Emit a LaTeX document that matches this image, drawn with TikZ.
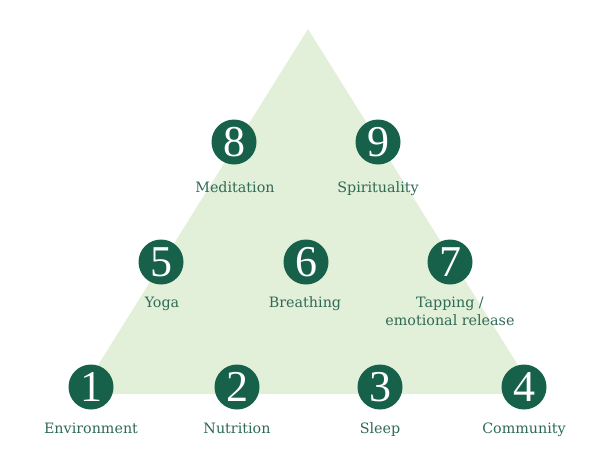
\documentclass[tikz,border=0pt]{standalone}
\usepackage{fontspec}
\setmainfont{DejaVu Serif}
\newfontfamily\digitfont{Liberation Serif}
\definecolor{tri}{HTML}{E2EFD9}
\definecolor{dkgreen}{HTML}{17604A}
\definecolor{lblgreen}{HTML}{2F6A55}
\begin{document}
\begin{tikzpicture}[x=1pt,y=-1pt,
  numcirc/.style={circle,fill=dkgreen,minimum size=45pt,inner sep=0pt,text=white,font=\digitfont\fontsize{44}{44}\selectfont},
  lbl/.style={text=lblgreen,font=\fontsize{14.3}{18}\selectfont,align=center,inner sep=0pt,anchor=base}]
\useasboundingbox (0,0) rectangle (613,467);
\fill[tri] (308,29) -- (536,394) -- (80,394) -- cycle;
\node[numcirc] (c1) at (91,387) {1};
\node[numcirc] (c2) at (237,387) {2};
\node[numcirc] (c3) at (380,387) {3};
\node[numcirc] (c4) at (524,387) {4};
\node[numcirc] (c5) at (161,262) {5};
\node[numcirc] (c6) at (306,262) {6};
\node[numcirc] (c7) at (450,262) {7};
\node[numcirc] (c8) at (234,142) {8};
\node[numcirc] (c9) at (378,142) {9};
\node[lbl] (l1) at (91,433) {Environment};
\node[lbl] (l2) at (237,433) {Nutrition};
\node[lbl] (l3) at (380,433) {Sleep};
\node[lbl] (l4) at (524,433) {Community};
\node[lbl] (l5) at (162,307) {Yoga};
\node[lbl] (l6) at (305,307) {Breathing};
\node[lbl] (l7) at (450,307) {Tapping /};
\node[lbl] (l7b) at (450,325) {emotional release};
\node[lbl] (l8) at (235,192) {Meditation};
\node[lbl] (l9) at (378,192) {Spirituality};
\end{tikzpicture}
\end{document}
